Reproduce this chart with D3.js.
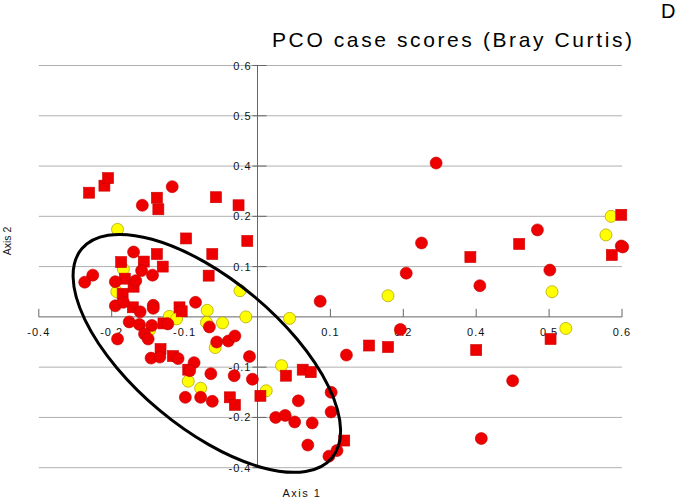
<!DOCTYPE html>
<html><head><meta charset="utf-8">
<script src="https://cdn.jsdelivr.net/npm/d3@7"></script>
<style>html,body{margin:0;padding:0;background:#fff}svg{display:block}</style>
</head><body>
<script>
// Axis tick positions and the labels printed in the reference
const xTicks = [-0.3,-0.2,-0.1,0,0.1,0.2,0.3,0.4,0.5];
const xTickLabels = ["-0.4","-0.2","-0.1","","0.1","0.2","0.4","0.5","0.6"];
const yTicks = [-0.3,-0.2,-0.1,0,0.1,0.2,0.3,0.4,0.5];
const yTickLabels = ["-0.4","-0.2","-0.1","","0.1","0.2","0.4","0.5","0.6"];

// Group A: red squares [axis1, axis2]
const redSquares = [
 [-0.231,0.247],[-0.210,0.261],[-0.205,0.276],[-0.138,0.237],[-0.136,0.214],
 [-0.057,0.238],[-0.026,0.222],[-0.098,0.156],[-0.014,0.151],[-0.062,0.125],
 [-0.067,0.082],[-0.187,0.109],[-0.156,0.110],[-0.138,0.125],[-0.130,0.100],
 [-0.182,0.076],[-0.170,0.060],[-0.185,0.046],[-0.171,0.019],[-0.107,0.019],
 [-0.104,0.011],[-0.129,-0.013],[-0.133,-0.064],[-0.116,-0.078],[-0.095,-0.105],
 [-0.038,-0.160],[-0.031,-0.175],[0.004,-0.157],[0.039,-0.117],[0.062,-0.105],
 [0.073,-0.110],[0.119,-0.246],[0.153,-0.057],[0.179,-0.060],[0.300,-0.066],
 [0.402,-0.044],[0.292,0.119],[0.359,0.145],[0.486,0.123],[0.499,0.203]
];
// Group B: red circles
const redCircles = [
 [-0.117,0.259],[-0.158,0.222],[-0.170,0.129],[-0.159,0.092],[-0.144,0.083],
 [-0.226,0.083],[-0.237,0.069],[-0.195,0.070],[-0.167,0.072],[-0.143,0.023],
 [-0.143,0.017],[-0.195,0.022],[-0.184,0.029],[-0.161,0.010],[-0.085,0.029],
 [0.086,0.031],[-0.176,-0.010],[-0.162,-0.015],[-0.145,-0.017],[-0.123,-0.014],
 [-0.066,-0.020],[-0.192,-0.044],[-0.155,-0.034],[-0.150,-0.044],[-0.056,-0.050],
 [-0.040,-0.048],[-0.031,-0.038],[-0.011,-0.079],[-0.146,-0.082],[-0.134,-0.080],
 [-0.109,-0.083],[-0.087,-0.091],[-0.093,-0.107],[-0.064,-0.113],[-0.032,-0.117],
 [-0.007,-0.124],[-0.099,-0.160],[-0.078,-0.160],[-0.062,-0.168],[0.056,-0.167],
 [0.025,-0.200],[0.038,-0.196],[0.051,-0.209],[0.075,-0.211],[0.101,-0.150],
 [0.101,-0.189],[0.069,-0.255],[0.098,-0.277],[0.109,-0.266],[0.122,-0.076],
 [0.196,-0.025],[0.204,0.087],[0.225,0.147],[0.245,0.306],[0.305,0.062],
 [0.384,0.173],[0.401,0.093],[0.499,0.141],[0.501,0.139],[0.350,-0.127],
 [0.307,-0.242]
];
// Group C: yellow circles
const yellowCircles = [
 [-0.192,0.174],[-0.184,0.095],[-0.193,0.050],[-0.024,0.052],[-0.069,0.013],
 [-0.016,0.000],[0.044,-0.003],[-0.121,0.001],[-0.111,-0.004],[-0.070,-0.011],
 [-0.048,-0.012],[-0.148,-0.026],[-0.058,-0.061],[-0.095,-0.128],[-0.078,-0.142],
 [0.012,-0.147],[0.033,-0.097],[0.179,0.042],[0.404,0.050],[0.423,-0.023],
 [0.485,0.200],[0.478,0.163]
];
// Ellipse centre (axis units)
const ellipseCentre = [-0.0695,-0.0726];

const W = 676, H = 498;
const svg = d3.select("body").append("svg").attr("width",W).attr("height",H);
const x = d3.scaleLinear().domain([-0.3,0.5]).range([38.8,622]);
const y = d3.scaleLinear().domain([-0.3,0.5]).range([467.7,65.5]);
const font = "Liberation Sans, Arial, Helvetica, sans-serif";

// gridlines
svg.append("g").selectAll("line").data(yTicks.filter(d=>d!==0)).join("line")
  .attr("x1",x(-0.3)).attr("x2",x(0.5)).attr("y1",d=>y(d)).attr("y2",d=>y(d))
  .attr("stroke","#b0b0b0").attr("stroke-width",1);

// axes
svg.append("line").attr("x1",x(-0.3)).attr("x2",x(0.5)).attr("y1",y(0)).attr("y2",y(0))
  .attr("stroke","#666").attr("stroke-width",1);
svg.append("line").attr("x1",x(0)).attr("x2",x(0)).attr("y1",y(0.5)).attr("y2",y(-0.3))
  .attr("stroke","#666").attr("stroke-width",1);

// x ticks
const xg = svg.append("g");
xTicks.forEach((t,i)=>{
  if(t===0) return;
  xg.append("line").attr("x1",x(t)).attr("x2",x(t)).attr("y1",y(0)-8).attr("y2",y(0))
    .attr("stroke","#666");
  xg.append("text").attr("x",x(t)).attr("y",y(0)+19).attr("text-anchor","middle")
    .attr("font-family",font).attr("font-size",11).attr("letter-spacing",1)
    .attr("fill","#111").text(xTickLabels[i]);
});
// y ticks
const yg = svg.append("g");
yTicks.forEach((t,i)=>{
  if(t===0) return;
  yg.append("line").attr("x1",x(0)-5).attr("x2",x(0)+9).attr("y1",y(t)).attr("y2",y(t))
    .attr("stroke","#666");
  yg.append("text").attr("x",x(0)-6).attr("y",y(t)+4).attr("text-anchor","end")
    .attr("font-family",font).attr("font-size",11).attr("letter-spacing",1)
    .attr("fill","#111").text(yTickLabels[i]);
});

// markers
const r = 6, s = 11;
svg.append("g").selectAll("circle").data(yellowCircles).join("circle")
  .attr("cx",d=>x(d[0])).attr("cy",d=>y(d[1])).attr("r",r)
  .attr("fill","#ffff00").attr("stroke","#b5a800").attr("stroke-width",0.8);
svg.append("g").selectAll("rect").data(redSquares).join("rect")
  .attr("x",d=>x(d[0])-s/2).attr("y",d=>y(d[1])-s/2).attr("width",s).attr("height",s)
  .attr("fill","#ee0000").attr("stroke","#cc0000").attr("stroke-width",0.6);
svg.append("g").selectAll("circle").data(redCircles).join("circle")
  .attr("cx",d=>x(d[0])).attr("cy",d=>y(d[1])).attr("r",r)
  .attr("fill","#ee0000").attr("stroke","#c00000").attr("stroke-width",0.6);

// ellipse
svg.append("ellipse")
  .attr("cx",0).attr("cy",0).attr("rx",163).attr("ry",74)
  .attr("transform",`translate(${x(ellipseCentre[0])},${y(ellipseCentre[1])}) rotate(39.9)`)
  .attr("fill","none").attr("stroke","#000").attr("stroke-width",3);

// titles
svg.append("text").attr("x",272).attr("y",47).attr("font-family",font).attr("font-size",21)
  .attr("textLength",360).attr("lengthAdjust","spacing").attr("fill","#000")
  .text("PCO case scores (Bray Curtis)");
svg.append("text").attr("x",661).attr("y",18).attr("font-family",font).attr("font-size",20)
  .attr("fill","#000").text("D");
svg.append("text").attr("x",302).attr("y",497).attr("text-anchor","middle")
  .attr("font-family",font).attr("font-size",11).attr("letter-spacing",1.5)
  .attr("fill","#111").text("Axis 1");
svg.append("text").attr("transform","translate(11,241) rotate(-90)").attr("text-anchor","middle")
  .attr("font-family",font).attr("font-size",10.5).attr("fill","#111").text("Axis 2");
</script>
</body></html>
